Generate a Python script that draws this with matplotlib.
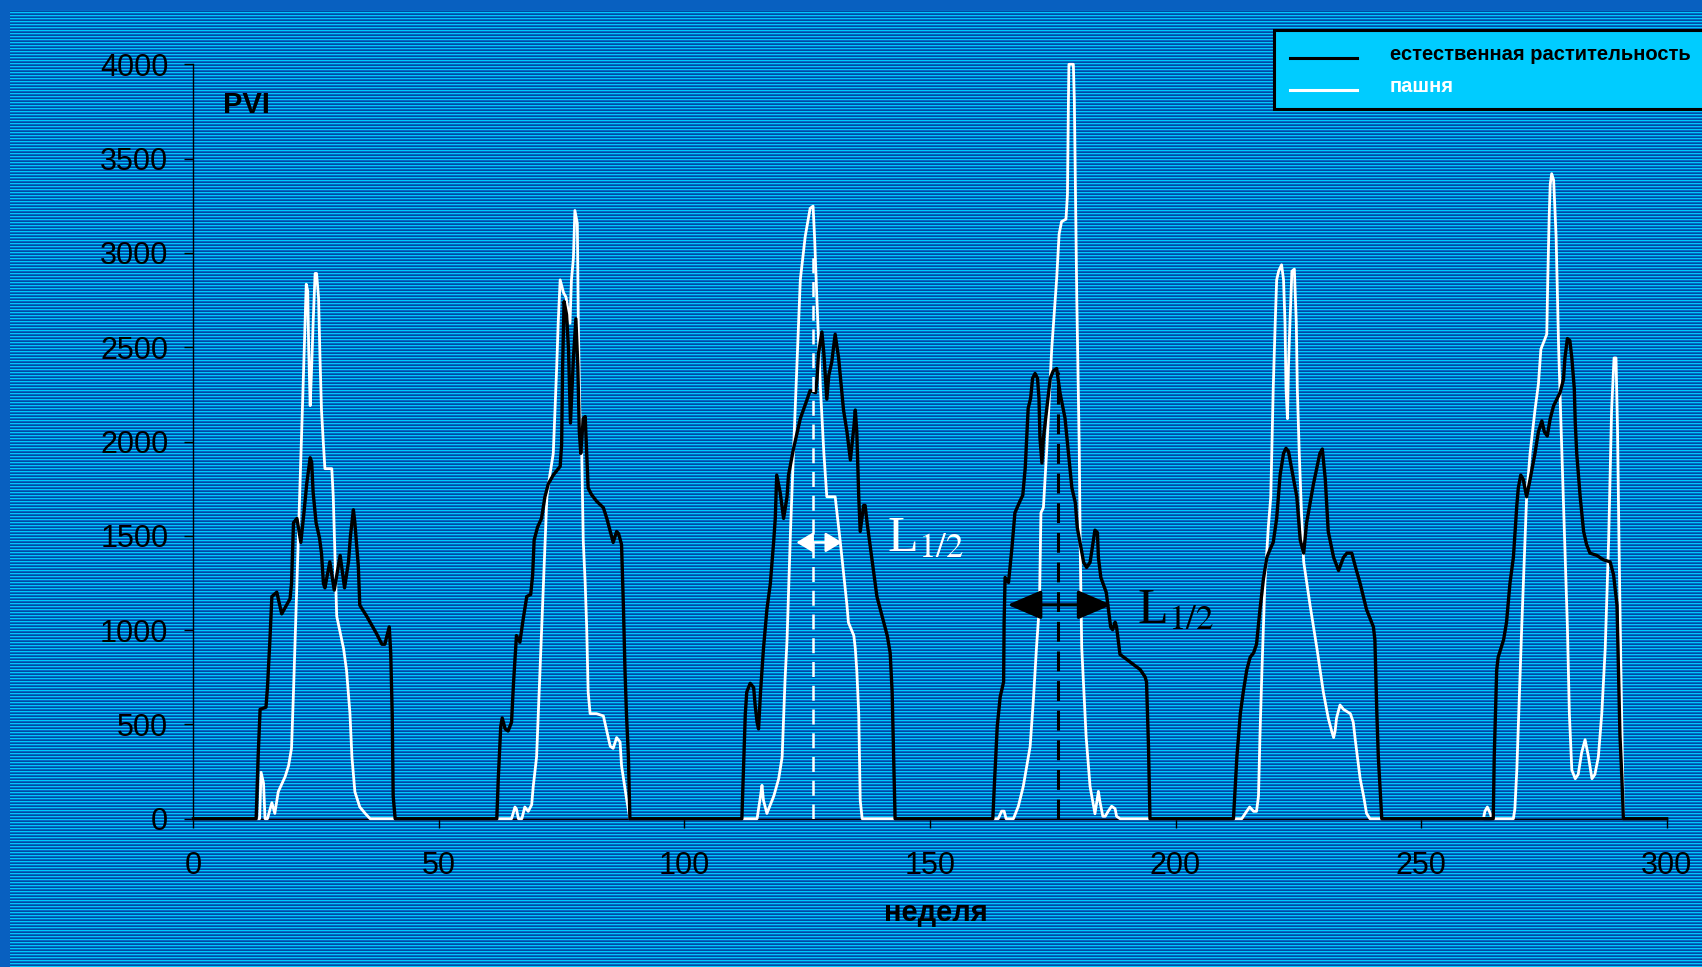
import numpy as np
import matplotlib
matplotlib.use("Agg")
import matplotlib.pyplot as plt
from matplotlib.patches import Rectangle
from matplotlib.lines import Line2D

plt.rcParams['font.family'] = ['Liberation Sans', 'DejaVu Sans']
plt.rcParams['mathtext.fontset'] = 'stix'

# (week, PVI) vertices, one list per season
# natural vegetation (black)
nat_1 = [(12.8, 0), (13.2, 327), (13.6, 580), (14.8, 591), (15.1, 695), (15.6, 948), (16.0, 1178), (17.0, 1201),
         (18.0, 1086), (19.7, 1166), (20.0, 1247), (20.4, 1569), (21.1, 1592), (21.9, 1465), (22.5, 1615),
         (23.1, 1776), (23.8, 1914), (24.1, 1891), (24.4, 1730), (25.0, 1569), (25.7, 1488), (26.1, 1408),
         (26.5, 1247), (26.8, 1224), (27.8, 1362), (28.7, 1212), (29.9, 1396), (30.8, 1224), (31.6, 1362),
         (32.0, 1500), (32.6, 1638), (32.9, 1569), (33.6, 1339), (33.9, 1132), (35.3, 1074), (37.3, 982),
         (38.4, 925), (39.0, 925), (39.9, 1017), (40.2, 879), (40.5, 557), (40.7, 120), (41.1, 0)]
nat_2 = [(61.8, 0), (62.1, 212), (62.6, 488), (62.9, 534), (63.5, 476), (64.1, 465), (64.8, 511), (65.2, 718),
         (65.8, 971), (66.5, 936), (67.2, 1063), (67.9, 1178), (68.7, 1189), (69.1, 1293), (69.4, 1477),
         (70.1, 1546), (70.9, 1592), (71.6, 1707), (72.3, 1776), (73.3, 1822), (74.7, 1868), (75.0, 1983),
         (75.2, 2397), (75.5, 2742), (76.0, 2673), (76.4, 2489), (76.8, 2098), (77.4, 2443), (77.9, 2650),
         (78.3, 2397), (78.6, 2052), (78.9, 1937), (79.4, 2121), (79.8, 2132), (80.1, 1937), (80.4, 1753),
         (81.1, 1718), (82.1, 1684), (83.5, 1649), (84.2, 1592), (84.9, 1523), (85.5, 1465), (86.2, 1523),
         (86.6, 1511), (87.2, 1454), (87.6, 1109), (87.9, 787), (88.2, 557), (88.6, 327), (88.9, 0)]
nat_3 = [(111.7, 0), (112.1, 327), (112.4, 557), (112.7, 672), (113.4, 718), (114.1, 695), (114.4, 603),
         (114.8, 511), (115.1, 476), (115.5, 672), (116.1, 902), (116.8, 1109), (117.5, 1247), (118.2, 1477),
         (118.5, 1592), (118.8, 1822), (119.5, 1730), (120.2, 1592), (120.9, 1707), (121.2, 1822), (122.2, 1960),
         (123.6, 2121), (125.0, 2224), (125.6, 2270), (126.7, 2259), (127.0, 2328), (127.3, 2466), (128.0, 2581),
         (128.4, 2466), (129.0, 2224), (129.4, 2351), (130.0, 2420), (130.7, 2569), (131.4, 2443), (132.4, 2167),
         (133.1, 2052), (133.8, 1902), (134.5, 2075), (134.8, 2167), (135.1, 2052), (135.5, 1707), (135.8, 1523),
         (136.5, 1661), (136.8, 1661), (137.2, 1569), (137.9, 1431), (138.5, 1316), (139.2, 1178), (139.9, 1109),
         (140.6, 1040), (141.3, 971), (141.9, 879), (142.3, 672), (142.6, 327), (142.9, 0)]
nat_4 = [(162.8, 0), (163.1, 171), (163.5, 383), (163.7, 488), (164.3, 646), (165.0, 725), (165.1, 1042),
         (165.3, 1279), (166.0, 1253), (166.7, 1438), (167.3, 1622), (168.4, 1688), (168.9, 1715), (169.4, 1860),
         (170.0, 2176), (170.5, 2229), (170.9, 2335), (171.4, 2361), (171.9, 2335), (172.2, 2229), (172.4, 2018),
         (172.8, 1886), (173.1, 2018), (173.8, 2176), (174.5, 2335), (175.1, 2374), (175.8, 2387), (176.5, 2256),
         (177.5, 2124), (178.4, 1886), (178.9, 1754), (179.6, 1675), (180.0, 1543), (181.3, 1359), (181.9, 1332),
         (182.6, 1359), (183.6, 1530), (184.1, 1517), (184.3, 1385), (184.8, 1279), (185.9, 1200), (186.8, 1016),
         (187.2, 1002), (187.7, 1042), (188.0, 1016), (188.7, 871), (190.1, 844), (191.4, 818), (192.8, 791),
         (193.8, 752), (194.1, 725), (194.5, 383), (194.8, 0)]
nat_5 = [(211.8, 0), (212.1, 143), (212.5, 327), (213.2, 557), (213.8, 672), (214.5, 787), (215.2, 856),
         (215.9, 879), (216.5, 925), (217.2, 1109), (217.9, 1270), (218.6, 1385), (219.3, 1431), (219.9, 1465),
         (220.6, 1592), (221.3, 1822), (222.0, 1937), (222.5, 1964), (223.0, 1948), (223.9, 1822), (224.7, 1707),
         (225.4, 1477), (226.1, 1408), (226.7, 1569), (228.1, 1776), (229.4, 1937), (229.9, 1960), (230.5, 1799),
         (231.1, 1523), (232.2, 1385), (233.2, 1316), (234.2, 1385), (234.9, 1408), (235.9, 1408), (236.6, 1339),
         (237.6, 1247), (238.9, 1109), (240.3, 1017), (240.6, 948), (241.0, 557), (241.3, 327), (241.7, 143),
         (242.0, 0)]
nat_6 = [(264.7, 0), (264.9, 327), (265.4, 787), (265.7, 856), (266.8, 948), (267.4, 1040), (268.1, 1247),
         (268.8, 1385), (269.5, 1661), (269.8, 1753), (270.3, 1822), (270.8, 1799), (271.5, 1707), (272.2, 1799),
         (273.2, 1937), (273.9, 2052), (274.6, 2109), (275.1, 2052), (275.7, 2029), (276.3, 2121), (277.0, 2190),
         (278.3, 2259), (279.0, 2328), (279.3, 2443), (279.8, 2546), (280.3, 2535), (280.7, 2443), (281.2, 2282),
         (281.4, 2098), (281.7, 1937), (282.4, 1707), (283.1, 1523), (283.7, 1454), (284.4, 1408), (285.8, 1396),
         (287.1, 1373), (288.5, 1362), (289.2, 1293), (289.9, 1132), (290.2, 787), (290.5, 442), (290.9, 212),
         (291.2, 0)]

# arable land (white)
crop_1 = [(13.5, 0), (13.8, 246), (14.3, 189), (14.6, 0), (15.1, 0), (16.0, 85), (16.6, 28), (17.3, 143),
          (17.7, 166), (18.7, 223), (19.4, 281), (20.0, 373), (20.4, 672), (21.1, 1247), (21.7, 1753),
          (22.4, 2328), (23.0, 2834), (23.3, 2799), (23.5, 2489), (23.8, 2190), (24.1, 2397), (24.4, 2627),
          (24.8, 2891), (25.1, 2891), (25.5, 2765), (25.8, 2443), (26.1, 2167), (26.5, 1983), (26.8, 1856),
          (28.2, 1856), (28.5, 1707), (28.9, 1339), (29.2, 1074), (30.6, 902), (31.2, 787), (31.9, 557),
          (32.3, 327), (32.9, 143), (33.9, 62), (35.0, 28), (36.0, 0)]
crop_2 = [(64.8, 0), (65.5, 62), (65.8, 51), (66.2, 0), (66.9, 0), (67.5, 62), (68.2, 39), (68.9, 74),
          (69.2, 166), (69.9, 327), (70.6, 787), (71.3, 1247), (72.0, 1707), (72.6, 1822), (73.3, 1937),
          (74.0, 2397), (74.3, 2627), (74.7, 2857), (75.4, 2788), (75.9, 2765), (76.7, 2627), (77.0, 2857),
          (77.4, 2972), (77.7, 3225), (78.2, 3156), (78.4, 2627), (78.7, 2167), (79.1, 1937), (79.4, 1477),
          (79.8, 1247), (80.1, 1017), (80.4, 672), (80.8, 557), (82.1, 557), (83.5, 545), (84.2, 465),
          (84.9, 384), (85.5, 373), (86.2, 430), (86.9, 407), (87.2, 281), (87.6, 212), (88.2, 108), (88.9, 0)]
crop_3 = [(114.8, 0), (115.5, 120), (115.8, 177), (116.1, 97), (116.8, 28), (117.5, 74), (118.2, 120),
          (119.2, 212), (119.9, 327), (120.5, 741), (120.9, 948), (121.6, 1523), (122.2, 1937), (122.9, 2397),
          (123.6, 2857), (124.6, 3087), (125.6, 3236), (126.2, 3248), (126.5, 3087), (127.0, 2742), (127.7, 2282),
          (128.4, 1937), (129.0, 1707), (130.7, 1707), (131.7, 1477), (133.1, 1132), (133.4, 1040), (134.5, 971),
          (134.8, 902), (135.1, 787), (135.5, 557), (135.8, 97), (136.2, 0)]
crop_4 = [(163.9, 0), (164.6, 40), (165.1, 40), (165.5, 0), (167.0, 0), (168.0, 66), (169.0, 171), (169.7, 277),
          (170.4, 383), (171.1, 646), (171.7, 910), (172.3, 1134), (172.6, 1622), (173.1, 1649), (173.8, 1965),
          (174.8, 2493), (175.8, 2862), (176.3, 3100), (176.8, 3166), (177.7, 3179), (178.0, 3311), (178.2, 3812),
          (178.3, 4000), (179.2, 4000), (179.4, 3812), (179.9, 2757), (180.4, 1965), (180.6, 1438), (180.9, 910),
          (181.8, 435), (182.6, 171), (183.6, 26), (184.3, 145), (184.6, 92), (185.2, 13), (185.7, 13),
          (186.3, 40), (187.0, 66), (187.7, 53), (188.0, 13), (188.7, 0)]
crop_5 = [(212.1, 0), (213.5, 0), (214.2, 28), (215.1, 62), (215.9, 39), (216.5, 39), (216.9, 120), (217.2, 442),
          (217.6, 787), (218.2, 1247), (218.9, 1546), (219.4, 1707), (219.6, 1937), (219.9, 2282), (220.3, 2627),
          (220.6, 2857), (221.0, 2903), (221.6, 2937), (222.0, 2857), (222.3, 2627), (222.5, 2282), (222.8, 2121),
          (223.0, 2397), (223.3, 2627), (223.7, 2903), (224.2, 2914), (224.6, 2627), (224.8, 2282), (225.2, 1937),
          (225.7, 1592), (226.1, 1362), (227.4, 1132), (228.8, 902), (230.1, 672), (231.1, 534), (231.8, 465),
          (232.2, 430), (232.5, 465), (232.8, 534), (233.5, 603), (234.2, 580), (235.6, 557), (236.2, 511),
          (236.6, 419), (237.6, 212), (238.3, 120), (238.9, 28), (239.6, 0)]
crop_6 = [(262.7, 0), (263.0, 39), (263.5, 62), (264.1, 28), (264.4, 0), (268.8, 0), (269.1, 51), (269.5, 258),
          (270.2, 787), (270.5, 1017), (271.0, 1362), (271.5, 1707), (272.2, 1937), (273.2, 2167), (273.9, 2305),
          (274.4, 2489), (274.9, 2523), (275.6, 2569), (275.8, 2857), (276.1, 3202), (276.3, 3363), (276.6, 3420),
          (277.0, 3386), (277.5, 3087), (278.0, 2512), (278.4, 2167), (279.1, 1592), (279.8, 1017), (280.2, 557),
          (280.7, 258), (281.4, 212), (282.0, 235), (282.7, 350), (283.4, 419), (284.1, 327), (284.8, 212),
          (285.4, 235), (286.1, 327), (286.8, 557), (287.5, 902), (288.2, 1477), (288.8, 2167), (289.3, 2443),
          (289.7, 2443), (290.0, 2075), (290.3, 1477), (290.7, 787), (291.0, 327), (291.2, 0)]

# half-width markers: centre week, top of dashed line, arrow level and ends
half_white = dict(week=126.2, top=3000, level=1465, left=122.8, right=132.1)
half_black = dict(week=176.0, top=2370, level=1134, left=165.8, right=187.0)

x_ticks = [0, 50, 100, 150, 200, 250, 300]
y_ticks = [0, 500, 1000, 1500, 2000, 2500, 3000, 3500, 4000]


def join(seasons):
    pts = [(0, 0)]
    for s in seasons:
        pts += s
    pts.append((300, 0))
    w, v = zip(*pts)
    return np.array(w), np.array(v)


W, H = 1702, 967
fig = plt.figure(figsize=(W / 100, H / 100), dpi=100)

# striped slide background
pattern = np.array([[0x00, 0xc8, 0xfa], [0x04, 0x6a, 0xc6], [0x00, 0x4a, 0xa2]]) / 255.0
bg = pattern[np.arange(H) % 3][:, None, :].repeat(W, axis=1)
border = np.array([0x08, 0x60, 0xc0]) / 255.0
bg[:10, :] = border
bg[:, :10] = border
fig.figimage(bg, xo=0, yo=0, origin='upper', zorder=-10)

ax = fig.add_axes([193.3 / W, 1 - 818.7 / H, (1666.6 - 193.3) / W, (818.7 - 64.3) / H])
ax.set_zorder(2)
ax.patch.set_alpha(0)

cw, cv = join([crop_1, crop_2, crop_3, crop_4, crop_5, crop_6])
nw, nv = join([nat_1, nat_2, nat_3, nat_4, nat_5, nat_6])
ax.plot(cw, cv, color='white', lw=2.0, clip_on=False, zorder=3)
ax.plot(nw, nv, color='black', lw=2.4, clip_on=False, zorder=4)

# half-width annotations
ax.plot([half_white['week']] * 2, [0, half_white['top']], color='white', lw=1.8,
        dashes=(6, 3.5), zorder=5)
ax.annotate('', xy=(half_white['right'], half_white['level']), xytext=(half_white['left'], half_white['level']),
            arrowprops=dict(arrowstyle='<|-|>,head_length=1.0,head_width=0.6', color='white', lw=1.8,
                            shrinkA=0, shrinkB=0), zorder=5)
ax.text(141.3, 1420, r'L$_{1/2}$', color='white', fontsize=36, family='Liberation Serif',
        ha='left', va='baseline')

ax.plot([half_black['week']] * 2, [0, half_black['top']], color='black', lw=2.2,
        dashes=(6.5, 3.2), zorder=5)
ax.annotate('', xy=(half_black['right'], half_black['level']), xytext=(half_black['left'], half_black['level']),
            arrowprops=dict(arrowstyle='<|-|>,head_length=2.1,head_width=0.9', color='black', lw=2.3,
                            shrinkA=0, shrinkB=0), zorder=5)
ax.text(192.1, 1043, r'L$_{1/2}$', color='black', fontsize=36, family='Liberation Serif',
        ha='left', va='baseline')

ax.text(6.0, 3742, 'PVI', fontsize=21, fontweight='bold', ha='left', va='baseline')

ax.set_xlim(0, 300)
ax.set_ylim(0, 4000)
ax.set_xticks(x_ticks)
ax.set_yticks(y_ticks)
ax.tick_params(axis='both', direction='out', length=6.5, width=1, color='black', labelsize=22,
               labelcolor='black')
ax.tick_params(axis='y', pad=11.5)
ax.tick_params(axis='x', pad=17)
for side in ['top', 'right']:
    ax.spines[side].set_visible(False)
ax.spines['left'].set_linewidth(1)
ax.spines['bottom'].set_linewidth(1)

fig.text(936 / W, 1 - 913 / H, 'неделя', fontsize=21, fontweight='bold', ha='center', va='center')

# legend box
fig.add_artist(Rectangle((1274 / W, 1 - 109 / H), (1710 - 1274) / W, 79 / H, transform=fig.transFigure,
                         facecolor='#00ccff', edgecolor='black', lw=2.2, zorder=6))
fig.add_artist(Line2D([1290 / W, 1357 / W], [1 - 58 / H] * 2, color='black', lw=2.2, zorder=7))
fig.add_artist(Line2D([1290 / W, 1357 / W], [1 - 90 / H] * 2, color='white', lw=2.2, zorder=7))
fig.text(1390 / W, 1 - 60 / H, 'естественная растительность', fontsize=14.5, fontweight='bold',
         color='black', va='baseline', zorder=7)
fig.text(1390 / W, 1 - 92 / H, 'пашня', fontsize=14.5, fontweight='bold', color='white',
         va='baseline', zorder=7)

fig.savefig('out.png', dpi=100)
